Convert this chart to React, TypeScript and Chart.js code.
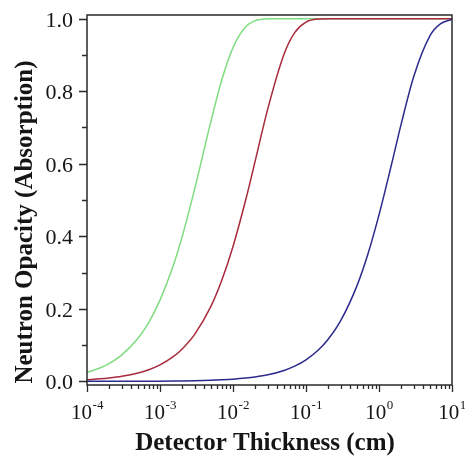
import React, { useEffect, useRef } from "react";
import { Chart, registerables } from "chart.js";

Chart.register(...registerables);

// Detector thickness (cm)
const thickness = [
  1e-4, 1.5e-4, 2e-4, 3e-4, 5e-4, 7e-4,
  1e-3, 1.5e-3, 2e-3, 3e-3, 5e-3, 7e-3,
  1e-2, 1.5e-2, 2e-2, 3e-2, 5e-2, 7e-2,
  0.1, 0.15, 0.2, 0.3, 0.5, 0.7,
  1, 1.5, 2, 3, 5, 7, 10,
];

// Neutron opacity (absorption)
const greenSeries = [
  0.025, 0.037, 0.049, 0.073, 0.119, 0.162,
  0.224, 0.316, 0.397, 0.532, 0.718, 0.83,
  0.92, 0.978, 0.994, 0.9995, 1, 1,
  1, 1, 1, 1, 1, 1,
  1, 1, 1, 1, 1, 1, 1,
];
const redSeries = [
  0.0046, 0.007, 0.0093, 0.0139, 0.023, 0.032,
  0.0454, 0.0674, 0.0888, 0.1302, 0.2075, 0.2779,
  0.372, 0.502, 0.605, 0.752, 0.902, 0.9615,
  0.9904, 0.9991, 1, 1, 1, 1,
  1, 1, 1, 1, 1, 1, 1,
];
const blueSeries = [
  0.0001, 0.0001, 0.0001, 0.0002, 0.0003, 0.0004,
  0.0006, 0.0009, 0.0012, 0.0018, 0.0031, 0.0043,
  0.0061, 0.0092, 0.0122, 0.0182, 0.0302, 0.042,
  0.0595, 0.0879, 0.1154, 0.1681, 0.264, 0.349,
  0.459, 0.602, 0.707, 0.841, 0.953, 0.986, 0.998,
];

const xMajorTicks = [1e-4, 1e-3, 1e-2, 1e-1, 1, 10];
const xTickExponents = ["-4", "-3", "-2", "-1", "0", "1"];
const xMinorMultipliers = [2, 3, 4, 5, 6, 7, 8, 9];
const yMajorTicks = [0, 0.2, 0.4, 0.6, 0.8, 1.0];
const yTickLabels = ["0.0", "0.2", "0.4", "0.6", "0.8", "1.0"];
const yMinorTicks = [0.1, 0.3, 0.5, 0.7, 0.9];

const xTitle = "Detector Thickness (cm)";
const yTitle = "Neutron Opacity (Absorption)";

const SERIF = '"Liberation Serif", "Times New Roman", serif';
const INK = "#151515";
const FRAME = "#2a2a2a";

const axesPlugin = {
  id: "customAxes",
  afterDraw(chart: any) {
    const ctx = chart.ctx as CanvasRenderingContext2D;
    const area = chart.chartArea;
    const xs = chart.scales.x;
    const ys = chart.scales.y;
    ctx.save();
    // frame
    ctx.strokeStyle = FRAME;
    ctx.lineWidth = 1.5;
    ctx.strokeRect(area.left, area.top, area.right - area.left, area.bottom - area.top);

    // y ticks
    ctx.lineWidth = 1.3;
    ctx.beginPath();
    yMajorTicks.forEach((v) => {
      const y = Math.round(ys.getPixelForValue(v)) + 0.5;
      ctx.moveTo(area.left, y);
      ctx.lineTo(area.left - 8, y);
    });
    yMinorTicks.forEach((v) => {
      const y = Math.round(ys.getPixelForValue(v)) + 0.5;
      ctx.moveTo(area.left, y);
      ctx.lineTo(area.left - 5, y);
    });
    // x ticks
    xMajorTicks.forEach((v) => {
      const x = Math.round(xs.getPixelForValue(v)) + 0.5;
      ctx.moveTo(x, area.bottom);
      ctx.lineTo(x, area.bottom + 7);
    });
    xMajorTicks.slice(0, -1).forEach((d) => {
      xMinorMultipliers.forEach((m) => {
        const x = Math.round(xs.getPixelForValue(d * m)) + 0.5;
        ctx.moveTo(x, area.bottom);
        ctx.lineTo(x, area.bottom + 4);
      });
    });
    ctx.stroke();

    // y labels
    ctx.fillStyle = INK;
    ctx.font = `22px ${SERIF}`;
    ctx.textAlign = "right";
    ctx.textBaseline = "alphabetic";
    yMajorTicks.forEach((v, i) => {
      const y = ys.getPixelForValue(v);
      ctx.fillText(yTickLabels[i], area.left - 14, y + 8);
    });

    // x labels: 10 with superscript exponent
    ctx.textAlign = "left";
    xMajorTicks.forEach((v, i) => {
      const x = xs.getPixelForValue(v);
      ctx.font = `21px ${SERIF}`;
      const wBase = ctx.measureText("10").width;
      ctx.font = `13px ${SERIF}`;
      const wExp = ctx.measureText(xTickExponents[i]).width;
      const start = x - (wBase + wExp) / 2;
      ctx.font = `21px ${SERIF}`;
      ctx.fillText("10", start, area.bottom + 34);
      ctx.font = `13px ${SERIF}`;
      ctx.fillText(xTickExponents[i], start + wBase + 0.5, area.bottom + 24);
    });

    // titles
    ctx.font = `bold 25px ${SERIF}`;
    ctx.textAlign = "center";
    ctx.fillText(xTitle, 265, 450);
    ctx.save();
    ctx.translate(32, 222);
    ctx.rotate(-Math.PI / 2);
    ctx.fillText(yTitle, 0, 0);
    ctx.restore();

    ctx.restore();
  },
};

export default function App() {
  const canvasRef = useRef<HTMLCanvasElement | null>(null);

  useEffect(() => {
    if (!canvasRef.current) return;
    const mk = (data: number[]) => thickness.map((x, i) => ({ x, y: data[i] }));
    const chart = new Chart(canvasRef.current, {
      type: "line",
      data: {
        datasets: [
          {
            label: "blue",
            data: mk(blueSeries),
            borderColor: "#2c2a8c",
            borderWidth: 1.5,
            pointRadius: 0,
            cubicInterpolationMode: "monotone",
          },
          {
            label: "red",
            data: mk(redSeries),
            borderColor: "#a82a3c",
            borderWidth: 1.5,
            pointRadius: 0,
            cubicInterpolationMode: "monotone",
          },
          {
            label: "green",
            data: mk(greenSeries),
            borderColor: "#80dc80",
            borderWidth: 1.5,
            pointRadius: 0,
            cubicInterpolationMode: "monotone",
          },
        ],
      },
      options: {
        animation: false,
        responsive: false,
        maintainAspectRatio: false,
        devicePixelRatio: 1,
        layout: { padding: { top: 15, right: 13, left: 0, bottom: 0 } },
        plugins: { legend: { display: false }, tooltip: { enabled: false } },
        scales: {
          x: {
            type: "logarithmic",
            min: 1e-4,
            max: 10,
            grid: { display: false },
            border: { display: false },
            ticks: { display: false },
            afterFit: (s: any) => {
              s.height = 72;
            },
          },
          y: {
            type: "linear",
            min: -0.01,
            max: 1.01,
            grid: { display: false },
            border: { display: false },
            ticks: { display: false },
            afterFit: (s: any) => {
              s.width = 87;
            },
          },
        },
      },
      plugins: [axesPlugin],
    });
    return () => chart.destroy();
  }, []);

  return (
    <div style={{ position: "fixed", left: 0, top: 0, width: 465, height: 457, background: "#fff" }}>
      <canvas ref={canvasRef} width={465} height={457} style={{ width: 465, height: 457 }} />
    </div>
  );
}
